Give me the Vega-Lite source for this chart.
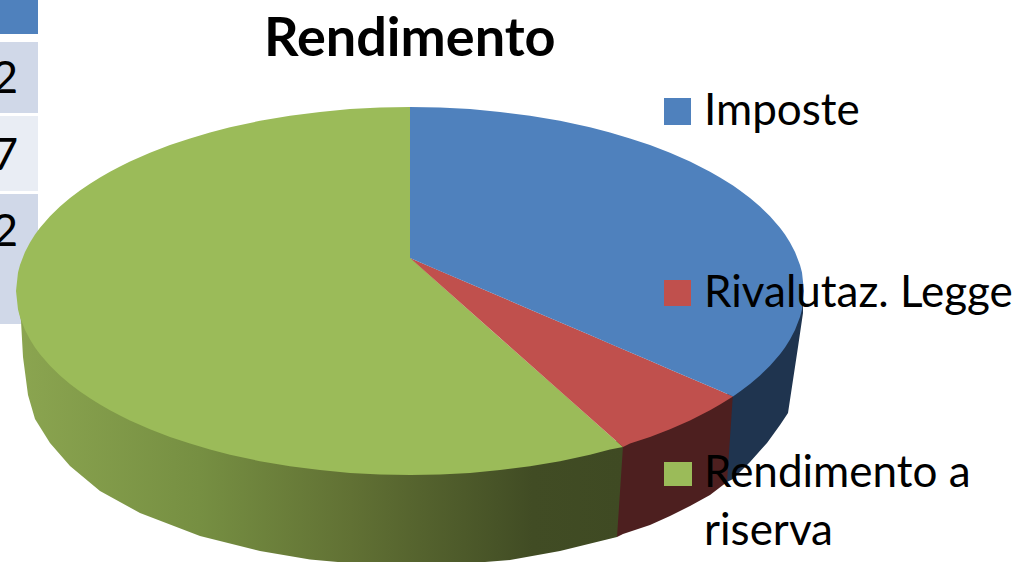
{
"$schema":"https://vega.github.io/schema/vega-lite/v6.json",
"width":1019,"height":562,"padding":0,"autosize":{"type":"none"},"background":"white",
"title":{"text":"Rendimento","anchor":"start","frame":"group","font":"Lato","fontWeight":"bold","fontSize":54,"color":"#000000","offset":0,"dx":264,"dy":110,"baseline":"alphabetic"},
"config":{"view":{"stroke":null}},
"datasets":{
"torta":[
{"parte":"parete","voce":"Imposte","x":317,"y":-100,"y2":-191},
{"parte":"parete","voce":"Imposte","x":323,"y":-100,"y2":-188},
{"parte":"parete","voce":"Imposte","x":340,"y":-85,"y2":-171},
{"parte":"parete","voce":"Imposte","x":357,"y":-70,"y2":-152},
{"parte":"parete","voce":"Imposte","x":370,"y":-55,"y2":-134},
{"parte":"parete","voce":"Imposte","x":378,"y":-45,"y2":-122},
{"parte":"parete","voce":"Imposte","x":383,"y":-35,"y2":-89},
{"parte":"parete","voce":"Imposte","x":388,"y":-25,"y2":-56},
{"parte":"parete","voce":"Imposte","x":393,"y":-10,"y2":-22},
{"parte":"parete","voce":"Rivalutaz. Legge","x":207,"y":-150,"y2":-246},
{"parte":"parete","voce":"Rivalutaz. Legge","x":213,"y":-148,"y2":-243},
{"parte":"parete","voce":"Rivalutaz. Legge","x":240,"y":-140,"y2":-234},
{"parte":"parete","voce":"Rivalutaz. Legge","x":260,"y":-132,"y2":-225},
{"parte":"parete","voce":"Rivalutaz. Legge","x":280,"y":-123,"y2":-215},
{"parte":"parete","voce":"Rivalutaz. Legge","x":300,"y":-113,"y2":-204},
{"parte":"parete","voce":"Rivalutaz. Legge","x":317,"y":-103,"y2":-191},
{"parte":"parete","voce":"Rivalutaz. Legge","x":323,"y":-102,"y2":-102},
{"parte":"parete","voce":"Rendimento a riserva","x":-392,"y":-14,"y2":-14},
{"parte":"parete","voce":"Rendimento a riserva","x":-389,"y":-20,"y2":-30},
{"parte":"parete","voce":"Rendimento a riserva","x":-387,"y":-25,"y2":-66},
{"parte":"parete","voce":"Rendimento a riserva","x":-382,"y":-38,"y2":-104},
{"parte":"parete","voce":"Rendimento a riserva","x":-375,"y":-48,"y2":-128},
{"parte":"parete","voce":"Rendimento a riserva","x":-360,"y":-65,"y2":-152},
{"parte":"parete","voce":"Rendimento a riserva","x":-340,"y":-85,"y2":-175},
{"parte":"parete","voce":"Rendimento a riserva","x":-310,"y":-105,"y2":-200},
{"parte":"parete","voce":"Rendimento a riserva","x":-270,"y":-125,"y2":-222},
{"parte":"parete","voce":"Rendimento a riserva","x":-210,"y":-148,"y2":-245},
{"parte":"parete","voce":"Rendimento a riserva","x":-150,"y":-162,"y2":-260},
{"parte":"parete","voce":"Rendimento a riserva","x":-100,"y":-168,"y2":-268.5},
{"parte":"parete","voce":"Rendimento a riserva","x":-50,"y":-173,"y2":-273},
{"parte":"parete","voce":"Rendimento a riserva","x":0,"y":-176,"y2":-275},
{"parte":"parete","voce":"Rendimento a riserva","x":50,"y":-173,"y2":-273},
{"parte":"parete","voce":"Rendimento a riserva","x":100,"y":-170,"y2":-269},
{"parte":"parete","voce":"Rendimento a riserva","x":150,"y":-162,"y2":-260},
{"parte":"parete","voce":"Rendimento a riserva","x":207,"y":-150,"y2":-246},
{"parte":"parete","voce":"Rendimento a riserva","x":213,"y":-155,"y2":-155},
{"parte":"piano","voce":"Rendimento a riserva","x":-394,"y":0,"y2":0},
{"parte":"piano","voce":"Rendimento a riserva","x":-392,"y":18.5,"y2":-18.5},
{"parte":"piano","voce":"Rendimento a riserva","x":-390,"y":26,"y2":-26},
{"parte":"piano","voce":"Rendimento a riserva","x":-385,"y":39.1,"y2":-39.1},
{"parte":"piano","voce":"Rendimento a riserva","x":-380,"y":48.6,"y2":-48.6},
{"parte":"piano","voce":"Rendimento a riserva","x":-375,"y":56.4,"y2":-56.4},
{"parte":"piano","voce":"Rendimento a riserva","x":-370,"y":63.2,"y2":-63.2},
{"parte":"piano","voce":"Rendimento a riserva","x":-360,"y":74.8,"y2":-74.8},
{"parte":"piano","voce":"Rendimento a riserva","x":-350,"y":84.5,"y2":-84.5},
{"parte":"piano","voce":"Rendimento a riserva","x":-340,"y":93,"y2":-93},
{"parte":"piano","voce":"Rendimento a riserva","x":-330,"y":100.5,"y2":-100.5},
{"parte":"piano","voce":"Rendimento a riserva","x":-320,"y":107.3,"y2":-107.3},
{"parte":"piano","voce":"Rendimento a riserva","x":-310,"y":113.6,"y2":-113.6},
{"parte":"piano","voce":"Rendimento a riserva","x":-300,"y":119.3,"y2":-119.3},
{"parte":"piano","voce":"Rendimento a riserva","x":-290,"y":124.5,"y2":-124.5},
{"parte":"piano","voce":"Rendimento a riserva","x":-280,"y":129.4,"y2":-129.4},
{"parte":"piano","voce":"Rendimento a riserva","x":-260,"y":138.2,"y2":-138.2},
{"parte":"piano","voce":"Rendimento a riserva","x":-240,"y":146,"y2":-146},
{"parte":"piano","voce":"Rendimento a riserva","x":-220,"y":152.6,"y2":-152.6},
{"parte":"piano","voce":"Rendimento a riserva","x":-200,"y":158.5,"y2":-158.5},
{"parte":"piano","voce":"Rendimento a riserva","x":-180,"y":163.7,"y2":-163.7},
{"parte":"piano","voce":"Rendimento a riserva","x":-150,"y":170.2,"y2":-170.2},
{"parte":"piano","voce":"Rendimento a riserva","x":-120,"y":175.3,"y2":-175.3},
{"parte":"piano","voce":"Rendimento a riserva","x":-90,"y":179.1,"y2":-179.1},
{"parte":"piano","voce":"Rendimento a riserva","x":-60,"y":181.9,"y2":-181.9},
{"parte":"piano","voce":"Rendimento a riserva","x":-30,"y":183.5,"y2":-183.5},
{"parte":"piano","voce":"Rendimento a riserva","x":0,"y":184,"y2":-184},
{"parte":"piano","voce":"Rendimento a riserva","x":0.5,"y":33,"y2":-184},
{"parte":"piano","voce":"Rendimento a riserva","x":30,"y":6.4,"y2":-183.5},
{"parte":"piano","voce":"Rendimento a riserva","x":60,"y":-20.2,"y2":-181.9},
{"parte":"piano","voce":"Rendimento a riserva","x":90,"y":-46.9,"y2":-179.1},
{"parte":"piano","voce":"Rendimento a riserva","x":120,"y":-73.5,"y2":-175.3},
{"parte":"piano","voce":"Rendimento a riserva","x":150,"y":-100.1,"y2":-170.2},
{"parte":"piano","voce":"Rendimento a riserva","x":180,"y":-126.7,"y2":-163.7},
{"parte":"piano","voce":"Rendimento a riserva","x":200,"y":-144.5,"y2":-158.5},
{"parte":"piano","voce":"Rendimento a riserva","x":213,"y":-156,"y2":-156},
{"parte":"piano","voce":"Rivalutaz. Legge","x":0,"y":33,"y2":33},
{"parte":"piano","voce":"Rivalutaz. Legge","x":60,"y":7.3,"y2":-20.2},
{"parte":"piano","voce":"Rivalutaz. Legge","x":120,"y":-18.4,"y2":-73.5},
{"parte":"piano","voce":"Rivalutaz. Legge","x":180,"y":-44.1,"y2":-126.7},
{"parte":"piano","voce":"Rivalutaz. Legge","x":213,"y":-58.3,"y2":-156},
{"parte":"piano","voce":"Rivalutaz. Legge","x":220,"y":-61.3,"y2":-152.6},
{"parte":"piano","voce":"Rivalutaz. Legge","x":240,"y":-69.8,"y2":-146},
{"parte":"piano","voce":"Rivalutaz. Legge","x":260,"y":-78.4,"y2":-138.2},
{"parte":"piano","voce":"Rivalutaz. Legge","x":280,"y":-87,"y2":-129.4},
{"parte":"piano","voce":"Rivalutaz. Legge","x":300,"y":-95.5,"y2":-119.3},
{"parte":"piano","voce":"Rivalutaz. Legge","x":310,"y":-99.8,"y2":-113.6},
{"parte":"piano","voce":"Rivalutaz. Legge","x":323,"y":-105.4,"y2":-105.4},
{"parte":"piano","voce":"Imposte","x":0,"y":184,"y2":33},
{"parte":"piano","voce":"Imposte","x":30,"y":183.5,"y2":20.1},
{"parte":"piano","voce":"Imposte","x":60,"y":181.9,"y2":7.3},
{"parte":"piano","voce":"Imposte","x":90,"y":179.1,"y2":-5.6},
{"parte":"piano","voce":"Imposte","x":120,"y":175.3,"y2":-18.4},
{"parte":"piano","voce":"Imposte","x":150,"y":170.2,"y2":-31.3},
{"parte":"piano","voce":"Imposte","x":180,"y":163.7,"y2":-44.1},
{"parte":"piano","voce":"Imposte","x":200,"y":158.5,"y2":-52.7},
{"parte":"piano","voce":"Imposte","x":220,"y":152.6,"y2":-61.3},
{"parte":"piano","voce":"Imposte","x":240,"y":146,"y2":-69.8},
{"parte":"piano","voce":"Imposte","x":260,"y":138.2,"y2":-78.4},
{"parte":"piano","voce":"Imposte","x":280,"y":129.4,"y2":-87},
{"parte":"piano","voce":"Imposte","x":300,"y":119.3,"y2":-95.5},
{"parte":"piano","voce":"Imposte","x":310,"y":113.6,"y2":-99.8},
{"parte":"piano","voce":"Imposte","x":323,"y":105.4,"y2":-105.4},
{"parte":"piano","voce":"Imposte","x":330,"y":100.5,"y2":-100.5},
{"parte":"piano","voce":"Imposte","x":340,"y":93,"y2":-93},
{"parte":"piano","voce":"Imposte","x":350,"y":84.5,"y2":-84.5},
{"parte":"piano","voce":"Imposte","x":360,"y":74.8,"y2":-74.8},
{"parte":"piano","voce":"Imposte","x":370,"y":63.2,"y2":-63.2},
{"parte":"piano","voce":"Imposte","x":375,"y":56.4,"y2":-56.4},
{"parte":"piano","voce":"Imposte","x":380,"y":48.6,"y2":-48.6},
{"parte":"piano","voce":"Imposte","x":385,"y":39.1,"y2":-39.1},
{"parte":"piano","voce":"Imposte","x":390,"y":26,"y2":-26},
{"parte":"piano","voce":"Imposte","x":392,"y":18.5,"y2":-18.5},
{"parte":"piano","voce":"Imposte","x":394,"y":0,"y2":0}
],
"celle":[
{"voce":"testata","x":-410,"x2":-372,"y":291,"y2":257},
{"voce":"riga scura","x":-410,"x2":-372,"y":249,"y2":178},
{"voce":"riga chiara","x":-410,"x2":-372,"y":175,"y2":100},
{"voce":"riga scura","x":-410,"x2":-372,"y":97,"y2":-33}
],
"legenda":[
{"voce":"Imposte","x":254,"x2":281,"y":193,"y2":166},
{"voce":"Rivalutaz. Legge","x":254,"x2":281,"y":11,"y2":-15},
{"voce":"Rendimento a riserva","x":254,"x2":282,"y":-171,"y2":-195}
],
"testi":[
{"testo":"Imposte","x":294,"y":166},
{"testo":"Rivalutaz. Legge","x":294,"y":-16},
{"testo":"Rendimento a","x":294,"y":-196},
{"testo":"riserva","x":294,"y":-254}
],
"numeri":[
{"testo":"2","x":-392,"y":198},
{"testo":"7","x":-392,"y":121},
{"testo":"2","x":-392,"y":45}
]
},
"encoding":{
"x":{"field":"x","type":"quantitative","scale":{"domain":[-410,609]},"axis":null},
"y":{"field":"y","type":"quantitative","scale":{"domain":[-271,291]},"axis":null}
},
"layer":[
{"data":{"name":"celle"},"mark":{"type":"rect"},
"encoding":{"x2":{"field":"x2"},"y2":{"field":"y2"},
"color":{"field":"voce","type":"nominal","legend":null,"scale":{"domain":["testata","riga scura","riga chiara"],"range":["#4f81bd","#d0d8e8","#e9edf4"]}}}},
{"data":{"name":"torta"},"transform":[{"filter":"datum.parte==='parete' && datum.voce==='Imposte'"}],
"mark":{"type":"area","color":"#1f344f","clip":true},"encoding":{"y2":{"field":"y2"}}},
{"data":{"name":"torta"},"transform":[{"filter":"datum.parte==='parete' && datum.voce==='Rivalutaz. Legge'"}],
"mark":{"type":"area","color":"#4d1f1f","clip":true},"encoding":{"y2":{"field":"y2"}}},
{"data":{"name":"torta"},"transform":[{"filter":"datum.parte==='parete' && datum.voce==='Rendimento a riserva'"}],
"mark":{"type":"area","clip":true,"color":{"gradient":"linear","x1":0,"y1":0,"x2":1,"y2":0,"stops":[{"offset":0,"color":"#8ba550"},{"offset":0.3,"color":"#768f42"},{"offset":0.55,"color":"#617134"},{"offset":0.85,"color":"#414c24"},{"offset":1,"color":"#3f4a23"}]}},
"encoding":{"y2":{"field":"y2"}}},
{"data":{"name":"torta"},"transform":[{"filter":"datum.parte==='piano' && datum.voce==='Rendimento a riserva'"}],
"mark":{"type":"area","color":"#9bbb59"},"encoding":{"y2":{"field":"y2"}}},
{"data":{"name":"torta"},"transform":[{"filter":"datum.parte==='piano' && datum.voce==='Rivalutaz. Legge'"}],
"mark":{"type":"area","color":"#c0504d"},"encoding":{"y2":{"field":"y2"}}},
{"data":{"name":"torta"},"transform":[{"filter":"datum.parte==='piano' && datum.voce==='Imposte'"}],
"mark":{"type":"area","color":"#4f81bd"},"encoding":{"y2":{"field":"y2"}}},
{"data":{"name":"legenda"},"mark":{"type":"rect"},
"encoding":{"x2":{"field":"x2"},"y2":{"field":"y2"},
"color":{"field":"voce","type":"nominal","legend":null,"scale":{"domain":["Imposte","Rivalutaz. Legge","Rendimento a riserva"],"range":["#4f81bd","#c0504d","#9bbb59"]}}}},
{"data":{"name":"testi"},"mark":{"type":"text","font":"Lato","fontSize":44,"align":"left","baseline":"alphabetic","color":"#000000"},
"encoding":{"text":{"field":"testo"}}},
{"data":{"name":"numeri"},"mark":{"type":"text","font":"Lato","fontSize":45,"align":"right","baseline":"alphabetic","color":"#000000"},
"encoding":{"text":{"field":"testo"}}}
],
"resolve":{"scale":{"color":"independent"}}
}
